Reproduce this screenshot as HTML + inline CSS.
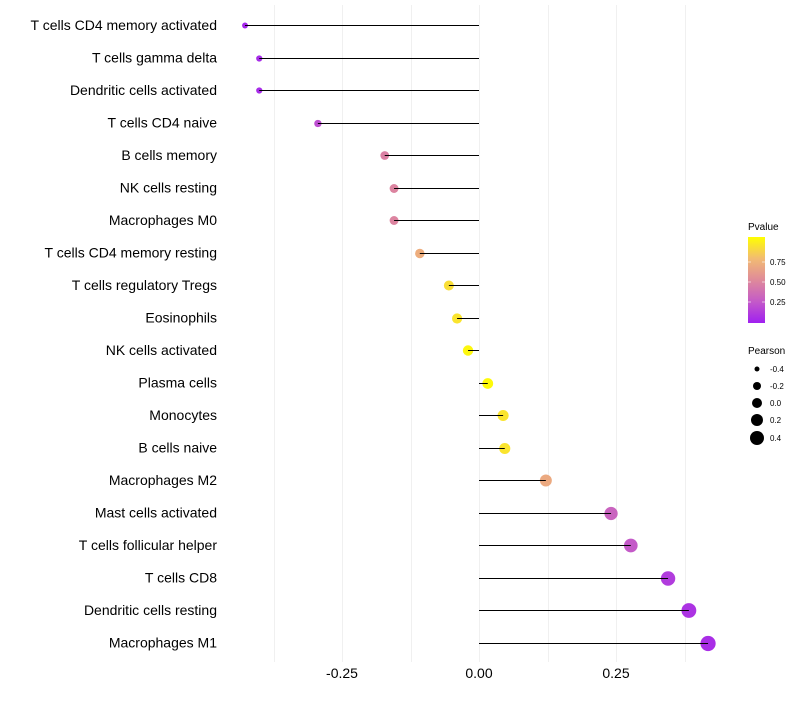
<!DOCTYPE html>
<html><head><meta charset="utf-8"><style>
body{margin:0;background:#fff;font-family:"Liberation Sans",sans-serif}
</style></head><body>
<svg id="chart" width="800" height="700" xmlns="http://www.w3.org/2000/svg">
<defs><linearGradient id="pg" x1="0" y1="1" x2="0" y2="0">
<stop offset="0" stop-color="#a020f0"/><stop offset="0.25" stop-color="#c45ac8"/><stop offset="0.5" stop-color="#df8a9a"/><stop offset="0.75" stop-color="#f2bb72"/><stop offset="1" stop-color="#ffff00"/>
</linearGradient></defs>
<g id="grid"></g><g id="points"></g><g id="stems"></g><g id="labels"></g>
<g>
<text x="748" y="230" font-size="10">Pvalue</text>
<rect x="748" y="237" width="17" height="86" fill="url(#pg)"/>
<g stroke="#fff" stroke-opacity="0.6"><line x1="748" x2="751" y1="262" y2="262"/><line x1="762" x2="765" y1="262" y2="262"/><line x1="748" x2="751" y1="282" y2="282"/><line x1="762" x2="765" y1="282" y2="282"/><line x1="748" x2="751" y1="302" y2="302"/><line x1="762" x2="765" y1="302" y2="302"/></g>
<text x="770" y="265" font-size="8">0.75</text><text x="770" y="285" font-size="8">0.50</text><text x="770" y="305" font-size="8">0.25</text>
</g>
<g>
<text x="748" y="354" font-size="10">Pearson</text>
<circle cx="757" cy="369" r="2.5"/><text x="770" y="372" font-size="8">-0.4</text>
<circle cx="757" cy="386" r="4"/><text x="770" y="389" font-size="8">-0.2</text>
<circle cx="757" cy="403" r="5"/><text x="770" y="406" font-size="8">0.0</text>
<circle cx="757" cy="420" r="6"/><text x="770" y="423" font-size="8">0.2</text>
<circle cx="757" cy="438" r="7"/><text x="770" y="441" font-size="8">0.4</text>
</g>
</svg>
<script>
const categories=["T cells CD4 memory activated","T cells gamma delta","Dendritic cells activated","T cells CD4 naive","B cells memory","NK cells resting","Macrophages M0","T cells CD4 memory resting","T cells regulatory  Tregs ","Eosinophils","NK cells activated","Plasma cells","Monocytes","B cells naive","Macrophages M2","Mast cells activated","T cells follicular helper","T cells CD8","Dendritic cells resting","Macrophages M1"];
const pearson=[-0.427,-0.401,-0.401,-0.294,-0.172,-0.155,-0.155,-0.108,-0.055,-0.040,-0.020,0.016,0.044,0.047,0.122,0.241,0.277,0.345,0.383,0.418];
const pvalue=[0.03,0.05,0.05,0.2,0.45,0.47,0.47,0.68,0.88,0.9,0.97,0.98,0.9,0.9,0.66,0.3,0.25,0.12,0.08,0.06];
const xTicks=[-0.25,0,0.25];
const xTickLabels=["-0.25","0.00","0.25"];
const NS="http://www.w3.org/2000/svg";
const X=v=>479+v*548;
const Y=i=>25+i*32.5;
const R=v=>5.3+v*5.5;
const stops=[[160,32,240],[196,90,200],[223,138,154],[242,187,114],[255,255,0]];
function col(p){p=Math.max(0,Math.min(1,p));const s=p*4,k=Math.min(3,Math.floor(s)),t=s-k;
 const c=stops[k].map((x,j)=>Math.round(x+(stops[k+1][j]-x)*t));return `rgb(${c})`;}
function mk(t,a,parent){const e=document.createElementNS(NS,t);for(const k in a)e.setAttribute(k,a[k]);document.getElementById(parent).appendChild(e);return e;}
[-0.375,-0.25,-0.125,0,0.125,0.25,0.375].forEach(v=>{
 const x=Math.round(X(v))+0.5;
 const l=mk('line',{x1:x,x2:x,y1:5,y2:662,stroke:'#f0f0f0','stroke-width':1},'grid');
 
 
});
xTicks.forEach((v,i)=>{
 const t=mk('text',{x:X(v),y:678,'font-size':14,'text-anchor':'middle'},'labels');t.textContent=xTickLabels[i];
 
 
});
categories.forEach((c,i)=>{
 const t=mk('text',{x:217,y:Y(i)+5,'font-size':14,'text-anchor':'end'},'labels');t.textContent=c;
 
 
 const y=Math.round(Y(i))+0.5;
 const p=mk('circle',{cx:X(pearson[i]),cy:y,r:R(pearson[i]),fill:col(pvalue[i])},'points');
 
 
 const l=mk('line',{x1:X(0),x2:X(pearson[i]),y1:y,y2:y,stroke:'#000','stroke-width':1},'stems');
 
 
});
</script>
</body></html>
